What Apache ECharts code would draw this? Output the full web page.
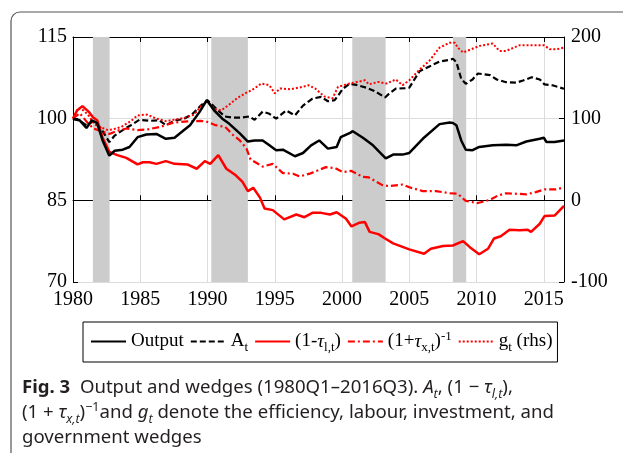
<!DOCTYPE html>
<html>
<head>
<meta charset="utf-8">
<script src="https://cdn.jsdelivr.net/npm/echarts@6/dist/echarts.min.js"></script>
<style>
html,body{margin:0;padding:0;background:#fff;}
#wrap{position:relative;width:623px;height:453px;overflow:hidden;}
#chart{position:absolute;left:0;top:0;width:623px;height:453px;}
#cap{position:absolute;left:22px;top:373px;font-family:'Noto Sans',sans-serif;font-size:18.6px;line-height:25px;color:#231f20;white-space:nowrap;}
#cap sub,#cap sup{font-size:12.5px;line-height:0;}
</style>
</head>
<body>
<div id="wrap">
<div id="chart"></div>
<div id="cap"><b>Fig. 3</b>&nbsp; Output and wedges (1980Q1–2016Q3). <i>A<sub>t</sub></i>, (1 − <i>τ<sub>l,t</sub></i>),<br>(1 + <i>τ<sub>x,t</sub></i>)<sup>−1</sup>and <i>g<sub>t</sub></i> denote the efficiency, labour, investment, and<br>government wedges</div>
</div>
<script>
// ---- data ----
const recessions = [[1981.48, 1982.72], [1990.28, 1993.0], [2000.76, 2003.24], [2008.24, 2009.23]];

const outputX = [1980.0,1980.5,1981.0,1981.4,1981.8,1982.2,1982.7,1983.1,1983.7,1984.2,1984.8,1985.45,1986.2,1986.9,1987.55,1988.05,1988.7,1989.4,1989.95,1990.5,1991.1,1991.6,1992.4,1993.0,1993.5,1994.1,1994.6,1995.1,1995.6,1996.5,1997.1,1997.7,1998.3,1998.95,1999.6,1999.9,2000.6,2000.8,2001.55,2002.3,2002.9,2003.25,2003.8,2004.5,2005.0,2006.0,2007.25,2008.0,2008.24,2008.5,2008.86,2009.2,2009.7,2010.2,2011.2,2012.2,2012.95,2013.7,2014.7,2015.0,2015.2,2015.8,2016.5];
const outputY = [100,99.7,98.3,99.7,99.2,96.0,93.2,94.1,94.3,94.8,96.6,97.1,97.2,96.3,96.5,97.5,98.8,101.2,103.4,101.5,100.0,99.1,97.3,95.8,96.0,96.0,95.1,94.2,94.3,93.1,93.7,95.1,96.0,94.5,94.8,96.6,97.4,97.7,96.5,95.1,93.6,92.7,93.4,93.4,93.7,96.3,99.0,99.3,99.2,98.8,96.0,94.3,94.2,94.8,95.1,95.2,95.1,95.8,96.3,96.5,95.7,95.7,96.0];

const effX = [1980.0,1980.5,1981.0,1981.5,1982.0,1982.7,1983.1,1983.7,1984.3,1984.95,1985.7,1986.4,1986.9,1987.6,1988.2,1988.9,1989.5,1990.0,1990.65,1991.3,1991.9,1992.5,1993.1,1993.5,1994.1,1994.6,1995.1,1995.85,1996.5,1997.1,1997.8,1998.45,1998.95,1999.45,1999.7,2000.06,2000.56,2001.06,2001.8,2002.4,2003.2,2003.5,2004.0,2004.7,2005.0,2005.76,2006.5,2007.25,2008.0,2008.24,2008.5,2008.86,2009.2,2009.7,2010.1,2011.0,2011.5,2012.2,2012.95,2013.45,2014.1,2014.7,2015.05,2015.7,2016.5];
const effY = [100,99.6,98.8,99.5,98.5,95.7,96.9,97.9,98.8,99.8,99.6,99.7,98.8,99.7,99.9,100.9,102.4,103.4,101.8,100.4,100.2,100.2,100.4,99.8,101.3,100.9,100.0,101.5,100.6,102.4,103.7,104.0,103.2,103.4,104.2,105.5,106.4,106.2,105.7,105.1,103.9,104.6,105.5,105.6,105.7,108.7,109.6,110.5,110.8,111.0,110.4,107.3,106.4,107.2,108.3,108.0,107.2,106.7,106.6,107.0,107.6,107.2,106.3,106.1,105.5];

const labourX = [1980.0,1980.3,1980.7,1981.2,1981.5,1981.8,1982.2,1982.7,1983.3,1983.96,1984.8,1985.2,1985.7,1986.2,1986.9,1987.55,1988.5,1989.2,1989.8,1990.2,1990.8,1991.4,1992.1,1992.6,1993.0,1993.4,1993.9,1994.24,1994.85,1995.7,1996.6,1997.2,1997.8,1998.45,1999.1,1999.6,2000.3,2000.7,2001.3,2001.7,2002.05,2002.7,2003.2,2003.8,2005.0,2006.1,2006.6,2007.5,2008.24,2009.0,2009.5,2010.2,2010.85,2011.3,2011.8,2012.45,2013.2,2013.8,2014.05,2014.7,2015.05,2015.8,2016.5];
const labourY = [100,101.5,102.3,101.2,100.2,99.7,96.5,93.9,93.3,92.8,91.6,92.0,92.0,91.7,92.2,91.7,91.6,90.8,92.2,91.7,93.3,90.8,89.6,88.4,86.7,87.3,85.5,83.5,83.2,81.5,82.4,81.9,82.7,82.7,82.4,82.8,81.6,80.2,80.9,81.0,79.2,78.8,78.0,77.1,76.0,75.2,76.1,76.6,76.7,77.5,76.4,75.1,76.1,78.0,78.4,79.6,79.5,79.6,79.2,80.7,82.1,82.2,84.0];

const investX = [1980.0,1980.5,1981.0,1981.5,1982.0,1982.7,1983.3,1984.0,1984.8,1985.5,1986.5,1987.5,1988.5,1989.5,1990.0,1990.6,1991.3,1991.9,1992.4,1992.9,1993.2,1994.1,1994.85,1995.6,1996.35,1996.85,1997.6,1998.8,1999.5,2000.06,2000.7,2001.55,2002.0,2003.0,2003.5,2004.5,2005.0,2006.0,2007.0,2008.0,2008.6,2009.2,2010.1,2011.0,2011.6,2012.2,2013.0,2013.7,2014.4,2015.05,2015.9,2016.5];
const investY = [100,101,99.5,98.2,97.8,97.2,97.8,98.2,97.9,98.0,98.5,99.3,99.5,99.6,99.4,98.8,98.5,97.0,96.0,94.5,92.5,91.2,91.7,90.0,89.9,89.4,89.9,91.1,90.9,90.2,90.4,89.3,89.2,87.8,87.6,87.9,87.4,86.7,86.7,86.3,86.2,84.9,84.5,85.1,85.9,86.3,86.2,86.1,86.5,87.0,87.0,87.4];

const govX = [1980.0,1980.4,1980.8,1981.2,1981.6,1982.0,1982.6,1983.0,1983.6,1984.3,1984.8,1985.5,1986.2,1986.9,1987.6,1988.3,1989.0,1989.6,1990.0,1990.5,1991.0,1991.6,1992.2,1992.9,1993.3,1994.0,1994.6,1995.0,1995.4,1996.15,1997.1,1997.5,1998.0,1998.7,1999.3,1999.7,2000.56,2001.7,2002.0,2002.7,2003.3,2004.0,2004.5,2005.0,2005.76,2006.5,2007.25,2008.0,2008.4,2008.6,2009.0,2009.6,2010.2,2011.2,2011.7,2012.2,2013.2,2014.2,2015.0,2015.45,2015.95,2016.5];
const govY = [100,113,110,103,93,90,86,87,90,97,104,105,100,97,99,101,105,117,121,112,110,117,125,132,135,143,141,131,137,136,139,141,137,127,125,139,143,147,142,145,143,148,141,147,160,171,187,193,193,187,181,185,189,192,183,183,190,190,190,185,185,187];

const leftTicks = {min: 70, max: 115, interval: 15};
const rightTicks = {min: -100, max: 200, interval: 100};
const xTicks = {min: 1980, max: 2016.5, interval: 5};

const seriesNames = ['Output', 'A{s|t}', '(1-{i|τ}{s|l,t})', '(1+{i|τ}{s|x,t}){p|-1}', 'g{s|t} (rhs)'];

// ---- chart ----
const pair = (xs, ys) => xs.map((x, i) => [x, ys[i]]);
const chart = echarts.init(document.getElementById('chart'), null, {renderer: 'canvas'});
const serif = 'Liberation Serif';
const axisCommon = {
  axisLine: {show: true, lineStyle: {color: '#000', width: 1}},
  axisTick: {show: true, inside: true, length: 5, lineStyle: {color: '#000'}},
  splitLine: {show: false}
};
chart.setOption({
  animation: false,
  backgroundColor: 'transparent',
  graphic: [{
    type: 'rect', z: -10, silent: true,
    shape: {x: 11, y: 12, width: 700, height: 600, r: 9},
    style: {fill: 'none', stroke: '#555', lineWidth: 1.2}
  }],
  grid: {left: 73, right: 59, top: 37, bottom: 171, containLabel: false},
  xAxis: [{
    type: 'value', position: 'bottom', ...xTicks,
    ...axisCommon,
    splitLine: {show: true, lineStyle: {color: '#dcdcdc', width: 1}},
    axisLabel: {show: true, color: '#000', fontFamily: serif, fontSize: 20, margin: 8,
      showMaxLabel: false, formatter: v => (v % 5 === 0 ? String(v) : '')}
  }, {
    type: 'value', position: 'top', ...xTicks,
    ...axisCommon,
    axisLabel: {show: false}
  }],
  yAxis: [{
    type: 'value', position: 'left', ...leftTicks,
    ...axisCommon,
    splitLine: {show: true, lineStyle: {color: '#dcdcdc', width: 1}},
    axisLabel: {color: '#000', fontFamily: serif, fontSize: 20, margin: 6}
  }, {
    type: 'value', position: 'right', ...rightTicks,
    ...axisCommon,
    axisLabel: {color: '#000', fontFamily: serif, fontSize: 20, margin: 7}
  }],
  legend: {
    left: 83, top: 322,
    padding: [8, 5, 8, 7],
    itemGap: 6, itemWidth: 35, itemHeight: 14,
    borderColor: '#000', borderWidth: 1,
    itemStyle: {opacity: 0},
    data: seriesNames,
    textStyle: {
      fontFamily: serif, fontSize: 19, color: '#000',
      rich: {
        s: {fontFamily: serif, fontSize: 13, color: '#000', padding: [12, 0, 0, 0]},
        i: {fontFamily: serif, fontSize: 19, fontStyle: 'italic', color: '#000'},
        p: {fontFamily: serif, fontSize: 13, color: '#000', padding: [0, 0, 10, 0]}
      }
    }
  },
  series: [{
    name: seriesNames[0], type: 'line', xAxisIndex: 0, yAxisIndex: 0, symbol: 'none', z: 5,
    data: pair(outputX, outputY),
    lineStyle: {color: '#000', width: 2.5, type: 'solid'}, itemStyle: {color: '#000'},
    markArea: {silent: true, itemStyle: {color: '#cccccc'},
      data: recessions.map(r => [{xAxis: r[0]}, {xAxis: r[1]}])}
  }, {
    name: seriesNames[1], type: 'line', yAxisIndex: 0, symbol: 'none', z: 4,
    data: pair(effX, effY),
    lineStyle: {color: '#000', width: 2.2, type: [6, 3]}, itemStyle: {color: '#000'}
  }, {
    name: seriesNames[2], type: 'line', yAxisIndex: 0, symbol: 'none', z: 4,
    data: pair(labourX, labourY),
    lineStyle: {color: '#ff0000', width: 2.5, type: 'solid'}, itemStyle: {color: '#ff0000'}
  }, {
    name: seriesNames[3], type: 'line', yAxisIndex: 0, symbol: 'none', z: 4,
    data: pair(investX, investY),
    lineStyle: {color: '#ff0000', width: 2.2, type: [7, 3, 2, 3]}, itemStyle: {color: '#ff0000'}
  }, {
    name: seriesNames[4], type: 'line', yAxisIndex: 1, symbol: 'none', z: 4,
    data: pair(govX, govY),
    lineStyle: {color: '#ff0000', width: 2, type: [2, 2]}, itemStyle: {color: '#ff0000'}
  }]
});
</script>
</body>
</html>
